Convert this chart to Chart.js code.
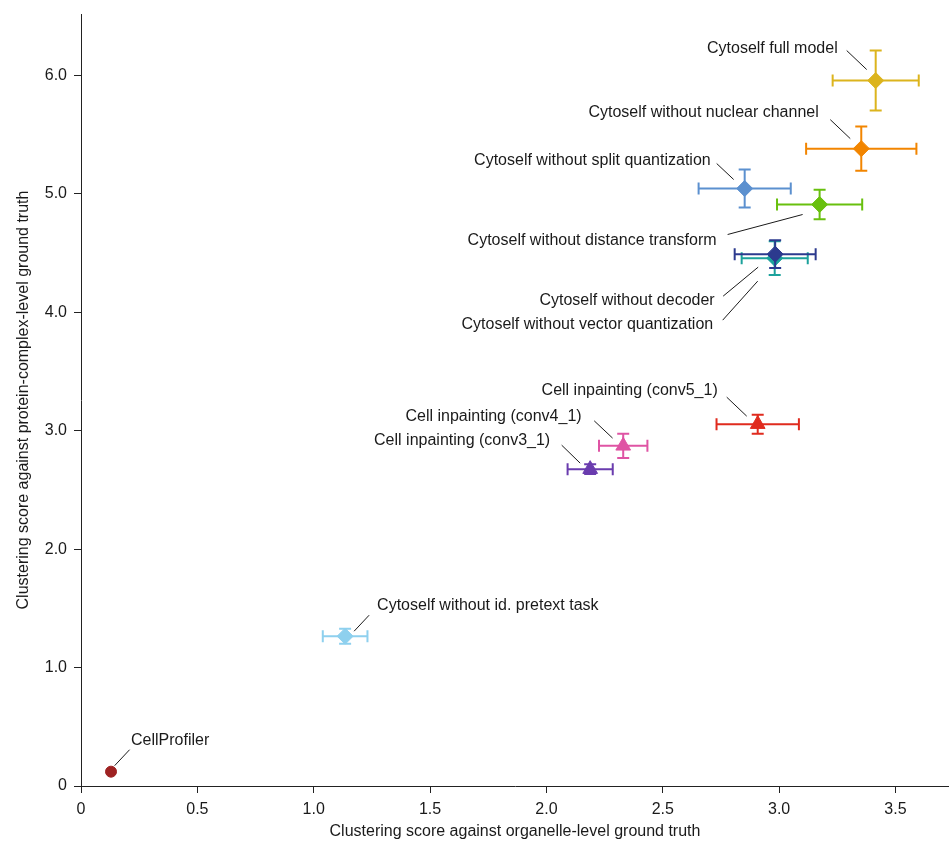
<!DOCTYPE html>
<html lang="en">
<head>
<meta charset="UTF-8">
<title>Clustering scores: organelle vs protein complex</title>
<script src="https://cdn.jsdelivr.net/npm/chart.js"></script>
<style>
  html, body { margin: 0; padding: 0; background: #fff; }
  #wrap { width: 949px; height: 841px; }
</style>
</head>
<body>
<div id="wrap"><canvas id="chart" width="949" height="841"></canvas></div>
<script>
// models, in drawing-priority order (earlier entries end up on top)
const names = [
  'Cytoself full model',
  'Cytoself without nuclear channel',
  'Cytoself without split quantization',
  'Cytoself without distance transform',
  'Cytoself without decoder',
  'Cytoself without vector quantization',
  'Cell inpainting (conv5_1)',
  'Cell inpainting (conv4_1)',
  'Cell inpainting (conv3_1)',
  'Cytoself without id. pretext task',
  'CellProfiler'
];
const organelleScore = [3.415, 3.353, 2.852, 3.174, 2.983, 2.981, 2.908, 2.330, 2.188, 1.135, 0.129];
const complexScore   = [5.958, 5.383, 5.046, 4.911, 4.492, 4.458, 3.056, 2.873, 2.676, 1.265, 0.121];
const organelleErr   = [0.185, 0.237, 0.198, 0.183, 0.174, 0.142, 0.177, 0.104, 0.097, 0.096, 0];
const complexErr     = [0.253, 0.186, 0.160, 0.124, 0.118, 0.143, 0.080, 0.103, 0.042, 0.063, 0];

const xTicks = [0, 0.5, 1, 1.5, 2, 2.5, 3, 3.5];
const yTicks = [0, 1, 2, 3, 4, 5, 6];

// marker look per model
const looks = [
  { color: '#dcb41d', shape: 'rectRot', r: 8 },
  { color: '#f28500', shape: 'rectRot', r: 8 },
  { color: '#5b90cf', shape: 'rectRot', r: 8 },
  { color: '#68c00e', shape: 'rectRot', r: 8 },
  { color: '#2c3a8e', shape: 'rectRot', r: 8 },
  { color: '#1ca29c', shape: 'rectRot', r: 8 },
  { color: '#e02b1e', shape: 'triangle', r: 8.5 },
  { color: '#df54a4', shape: 'triangle', r: 8.5 },
  { color: '#6a3cae', shape: 'triangle', r: 8.5 },
  { color: '#8ed0ee', shape: 'rectRot', r: 8 },
  { color: '#9e2222', shape: 'circle', r: 5.5 }
];

// label placement relative to the marker, in pixels
const callouts = [
  { align: 'right', dx: -38,   dy: -32,   line: [-29, -30, -9, -11] },
  { align: 'right', dx: -42.5, dy: -36.5, line: [-31, -29, -11, -10] },
  { align: 'right', dx: -34,   dy: -28,   line: [-28, -25, -11, -9] },
  { align: 'right', dx: -103,  dy: 36,    line: [-92, 30, -17, 10] },
  { align: 'right', dx: -60.5, dy: 46.5,  line: [-52, 42, -17, 13] },
  { align: 'right', dx: -61.5, dy: 66.5,  line: [-52, 62, -17, 23] },
  { align: 'right', dx: -40,   dy: -34,   line: [-31, -27, -11, -8] },
  { align: 'right', dx: -41.6, dy: -29.5, line: [-29, -25, -10.6, -7.7] },
  { align: 'right', dx: -40,   dy: -29,   line: [-28.5, -24, -10, -6] },
  { align: 'left',  dx: 32,    dy: -31,   line: [24, -21, 9, -5] },
  { align: 'left',  dx: 20,    dy: -30.6, line: [18.6, -22, 3.6, -6] }
];

const FONT = '"Liberation Sans", Arial, Helvetica, sans-serif';
const INK = '#1a1a1a';
Chart.defaults.font.family = FONT;
Chart.defaults.font.size = 16;
Chart.defaults.color = INK;

// error bars go down right before each dataset's marker
const errorBars = {
  id: 'errorBars',
  beforeDatasetDraw(chart, args) {
    const i = args.index;
    const pt = args.meta.data[0];
    if (!pt) return;
    const xs = chart.scales.x, ys = chart.scales.y;
    const ctx = chart.ctx;
    const cap = 6;
    ctx.save();
    ctx.strokeStyle = looks[i].color;
    ctx.lineWidth = 2;
    ctx.beginPath();
    if (organelleErr[i]) {
      const x0 = xs.getPixelForValue(organelleScore[i] - organelleErr[i]);
      const x1 = xs.getPixelForValue(organelleScore[i] + organelleErr[i]);
      ctx.moveTo(x0, pt.y); ctx.lineTo(x1, pt.y);
      ctx.moveTo(x0, pt.y - cap); ctx.lineTo(x0, pt.y + cap);
      ctx.moveTo(x1, pt.y - cap); ctx.lineTo(x1, pt.y + cap);
    }
    if (complexErr[i]) {
      const y0 = ys.getPixelForValue(complexScore[i] - complexErr[i]);
      const y1 = ys.getPixelForValue(complexScore[i] + complexErr[i]);
      ctx.moveTo(pt.x, y0); ctx.lineTo(pt.x, y1);
      ctx.moveTo(pt.x - cap, y0); ctx.lineTo(pt.x + cap, y0);
      ctx.moveTo(pt.x - cap, y1); ctx.lineTo(pt.x + cap, y1);
    }
    ctx.stroke();
    ctx.restore();
  }
};

const labelsPlugin = {
  id: 'callouts',
  afterDatasetsDraw(chart) {
    const ctx = chart.ctx;
    ctx.save();
    ctx.font = '16px ' + FONT;
    ctx.fillStyle = INK;
    ctx.strokeStyle = INK;
    ctx.lineWidth = 1;
    ctx.textBaseline = 'middle';
    names.forEach((name, i) => {
      const pt = chart.getDatasetMeta(i).data[0];
      const c = callouts[i];
      ctx.beginPath();
      ctx.moveTo(pt.x + c.line[0], pt.y + c.line[1]);
      ctx.lineTo(pt.x + c.line[2], pt.y + c.line[3]);
      ctx.stroke();
      ctx.textAlign = c.align;
      ctx.fillText(name, pt.x + c.dx, pt.y + c.dy);
    });
    ctx.restore();
  }
};

const datasets = names.map((name, i) => ({
  label: name,
  data: [{ x: organelleScore[i], y: complexScore[i] }],
  pointStyle: looks[i].shape,
  pointRadius: looks[i].r,
  pointHoverRadius: looks[i].r,
  pointBorderWidth: 1,
  backgroundColor: looks[i].color,
  borderColor: looks[i].color
}));

const fmt = v => (v === 0 ? '0' : v.toFixed(1));

// keep the plot box fixed: no extra room reserved for edge tick labels
const noEdgePadding = axis => {
  axis.paddingLeft = 0; axis.paddingRight = 0;
  axis.paddingTop = 0; axis.paddingBottom = 0;
};

new Chart(document.getElementById('chart'), {
  type: 'scatter',
  data: { datasets },
  options: {
    responsive: false,
    animation: false,
    devicePixelRatio: 1,
    events: [],
    layout: { autoPadding: false, padding: { top: 14, right: 0, left: 0, bottom: 0 } },
    plugins: { legend: { display: false }, tooltip: { enabled: false } },
    scales: {
      x: {
        type: 'linear',
        min: 0,
        max: 3.73,
        afterBuildTicks: axis => { axis.ticks = xTicks.map(v => ({ value: v })); },
        afterFit: axis => { axis.height = 55; noEdgePadding(axis); },
        ticks: { callback: fmt, padding: 7, color: INK, font: { size: 16 }, maxRotation: 0 },
        grid: { drawOnChartArea: false, drawTicks: true, tickLength: 7, color: '#222' },
        border: { display: true, color: '#222', width: 1 },
        title: {
          display: true,
          text: 'Clustering score against organelle-level ground truth',
          color: INK,
          font: { size: 16 },
          padding: { top: 0, bottom: 0 }
        }
      },
      y: {
        type: 'linear',
        min: 0,
        max: 6.52,
        afterBuildTicks: axis => { axis.ticks = yTicks.map(v => ({ value: v })); },
        afterFit: axis => { axis.width = 81; noEdgePadding(axis); },
        ticks: { callback: fmt, padding: 7, color: INK, font: { size: 16 } },
        grid: { drawOnChartArea: false, drawTicks: true, tickLength: 7, color: '#222' },
        border: { display: true, color: '#222', width: 1 },
        title: {
          display: true,
          text: 'Clustering score against protein-complex-level ground truth',
          color: INK,
          font: { size: 16 },
          padding: { top: 14, bottom: 0 }
        }
      }
    }
  },
  plugins: [errorBars, labelsPlugin]
});
</script>
</body>
</html>
